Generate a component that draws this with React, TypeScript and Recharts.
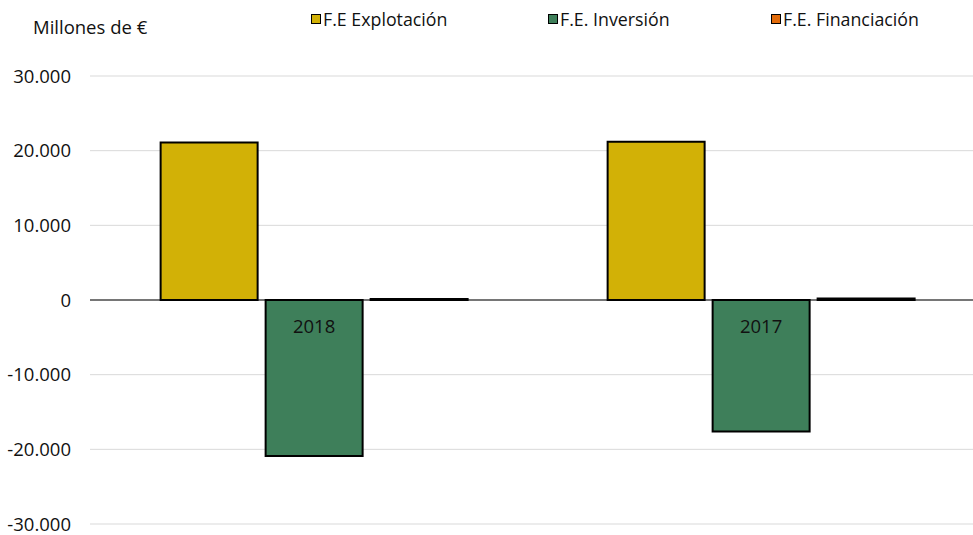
import { BarChart, Bar, CartesianGrid, XAxis, YAxis, ReferenceLine, LabelList } from 'recharts';

const years = ['2018', '2017'];
const explotacion = [21100, 21200];
const inversion = [-20900, -17600];
const financiacion = [150, 200];
const yTicks = [-30000, -20000, -10000, 0, 10000, 20000, 30000];

const series = [
    { key: 'explotacion', name: 'F.E Explotación', color: '#D2B106' },
    { key: 'inversion', name: 'F.E. Inversión', color: '#3E7F5A' },
    { key: 'financiacion', name: 'F.E. Financiación', color: '#E26B0A' },
];

const data = years.map((year, i) => ({
    year,
    explotacion: explotacion[i],
    inversion: inversion[i],
    financiacion: financiacion[i],
}));

const font = '"Open Sans", sans-serif';

const fmt = (v: number) => {
    const s = Math.abs(v).toString().replace(/\B(?=(\d{3})+(?!\d))/g, '.');
    return v < 0 ? '-' + s : s;
};

// year label just under the zero line, centred on the middle bar
const YearLabel = (props: any) => {
    const { x, y, width, height, value } = props;
    const top = Math.min(y, y + height);
    return (
        <text x={x + width / 2} y={top + 25} textAnchor="middle" dominantBaseline="central"
            fontSize={18.5} fontFamily={font} fill="#111">
            {value}
        </text>
    );
};

const legendWidths = [237, 223, 200];

const App = () => {
    return (
        <div style={{ position: 'fixed', left: 0, top: 0, width: 973, height: 535, overflow: 'hidden', background: '#fff', fontFamily: font }}>
            <div style={{ position: 'absolute', left: 33, top: 14, fontSize: 18.5, lineHeight: '25px', color: '#111' }}>Millones de €</div>
            <div style={{ position: 'absolute', left: 311, top: 7, display: 'flex', fontSize: 17.8, lineHeight: '24px', color: '#111' }}>
                {series.map((s, i) => (
                    <div key={s.key} style={{ width: legendWidths[i], display: 'flex', alignItems: 'center' }}>
                        <span style={{ width: 8, height: 8, background: s.color, border: '1.5px solid #000', marginRight: 2, display: 'inline-block' }} />
                        <span>{s.name}</span>
                    </div>
                ))}
            </div>
            <BarChart width={1000} height={535} data={data} margin={{ top: 76, right: 16, bottom: 11, left: 0 }}
                barCategoryGap="15.8%" barGap={8}>
                <CartesianGrid vertical={false} stroke="#d9d9d9" />
                <XAxis dataKey="year" hide />
                <YAxis width={90} domain={[-30000, 30000]} ticks={yTicks} tickFormatter={fmt}
                    axisLine={false} tickLine={false} tickMargin={13}
                    tick={{ fontSize: 18.5, fontFamily: font, fill: '#111' }} />
                <ReferenceLine y={0} stroke="#000" strokeWidth={1} />
                {series.map(s => (
                    <Bar key={s.key} dataKey={s.key} name={s.name} fill={s.color} stroke="#000" strokeWidth={2}
                        isAnimationActive={false}>
                        {s.key === 'inversion' && <LabelList dataKey="year" content={YearLabel} />}
                    </Bar>
                ))}
            </BarChart>
        </div>
    );
};

export default App;
